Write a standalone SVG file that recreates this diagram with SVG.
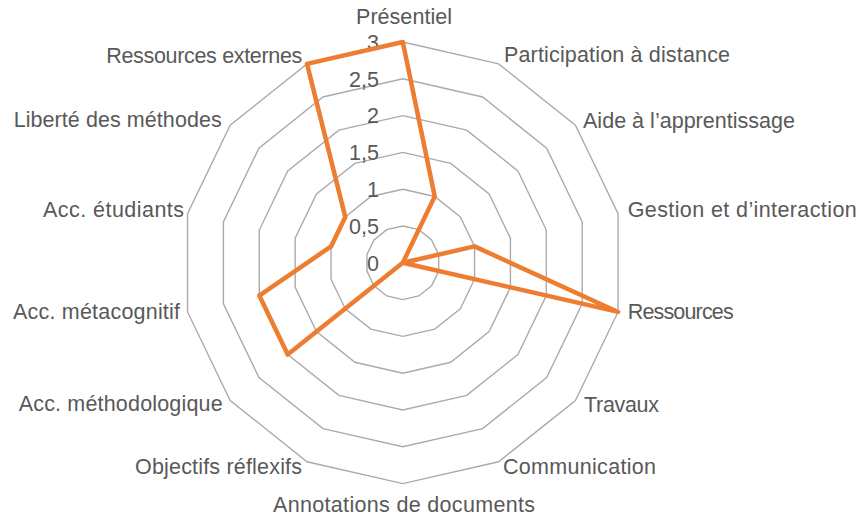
<svg xmlns="http://www.w3.org/2000/svg" width="867" height="521" viewBox="0 0 867 521">
<style>
.grid{fill:none;stroke:#ABABAB;stroke-width:1.4}
.series{fill:none;stroke:#ED7D31;stroke-width:4.5;stroke-linejoin:round}
text{font-family:"Liberation Sans",Arial,sans-serif;fill:#595959}
.lbl{font-size:21.5px}
.tick{font-size:21.5px;text-anchor:end}
.s{text-anchor:start}.e{text-anchor:end}.m{text-anchor:middle}
</style>
<rect width="867" height="521" fill="#FFFFFF"/>
<g id="grid" transform="translate(402.8,262.8)">
<polygon class="grid" points="0,-36.8 15.97,-33.16 28.77,-22.94 35.88,-8.19 35.88,8.19 28.77,22.94 15.97,33.16 0,36.8 -15.97,33.16 -28.77,22.94 -35.88,8.19 -35.88,-8.19 -28.77,-22.94 -15.97,-33.16"/>
<polygon class="grid" points="0,-73.6 31.93,-66.31 57.54,-45.89 71.75,-16.38 71.75,16.38 57.54,45.89 31.93,66.31 0,73.6 -31.93,66.31 -57.54,45.89 -71.75,16.38 -71.75,-16.38 -57.54,-45.89 -31.93,-66.31"/>
<polygon class="grid" points="0,-110.4 47.9,-99.47 86.31,-68.83 107.63,-24.57 107.63,24.57 86.31,68.83 47.9,99.47 0,110.4 -47.9,99.47 -86.31,68.83 -107.63,24.57 -107.63,-24.57 -86.31,-68.83 -47.9,-99.47"/>
<polygon class="grid" points="0,-147.2 63.87,-132.62 115.09,-91.78 143.51,-32.76 143.51,32.76 115.09,91.78 63.87,132.62 0,147.2 -63.87,132.62 -115.09,91.78 -143.51,32.76 -143.51,-32.76 -115.09,-91.78 -63.87,-132.62"/>
<polygon class="grid" points="0,-184 79.83,-165.78 143.86,-114.72 179.39,-40.94 179.39,40.94 143.86,114.72 79.83,165.78 0,184 -79.83,165.78 -143.86,114.72 -179.39,40.94 -179.39,-40.94 -143.86,-114.72 -79.83,-165.78"/>
<polygon class="grid" points="0,-220.8 95.8,-198.93 172.63,-137.67 215.26,-49.13 215.26,49.13 172.63,137.67 95.8,198.93 0,220.8 -95.8,198.93 -172.63,137.67 -215.26,49.13 -215.26,-49.13 -172.63,-137.67 -95.8,-198.93"/>
</g>
<g id="ticks">
<text class="tick" x="379" y="270.5">0</text>
<text class="tick" x="379" y="233.7">0,5</text>
<text class="tick" x="379" y="196.9">1</text>
<text class="tick" x="379" y="160.1">1,5</text>
<text class="tick" x="379" y="123.3">2</text>
<text class="tick" x="379" y="86.5">2,5</text>
<text class="tick" x="379" y="49.7">3</text>
</g>
<g id="series" transform="translate(402.8,262.8)">
<polygon class="series" points="0,-220.8 31.93,-66.31 0,0 71.75,-16.38 215.26,49.13 0,0 0,0 0,0 0,0 -115.09,91.78 -143.51,32.76 -71.75,-16.38 -57.54,-45.89 -95.8,-198.93"/>
</g>
<g id="labels">
<text class="lbl m" x="404" y="24" textLength="96">Présentiel</text>
<text class="lbl s" x="504" y="62" textLength="226">Participation à distance</text>
<text class="lbl s" x="583" y="127.5" textLength="212">Aide à l’apprentissage</text>
<text class="lbl s" x="627.7" y="217.3" textLength="229">Gestion et d’interaction</text>
<text class="lbl s" x="627.7" y="319.3" textLength="106">Ressources</text>
<text class="lbl s" x="584" y="411.7" textLength="75">Travaux</text>
<text class="lbl s" x="503" y="474" textLength="153">Communication</text>
<text class="lbl m" x="404" y="511.7" textLength="262">Annotations de documents</text>
<text class="lbl e" x="302" y="473.5" textLength="167">Objectifs réflexifs</text>
<text class="lbl e" x="222.7" y="410.7" textLength="204">Acc. méthodologique</text>
<text class="lbl e" x="180" y="319.3" textLength="167">Acc. métacognitif</text>
<text class="lbl e" x="184" y="216.7" textLength="141">Acc. étudiants</text>
<text class="lbl e" x="221.7" y="126.5" textLength="208">Liberté des méthodes</text>
<text class="lbl e" x="302.3" y="62.7" textLength="196">Ressources externes</text>
</g>
</svg>
